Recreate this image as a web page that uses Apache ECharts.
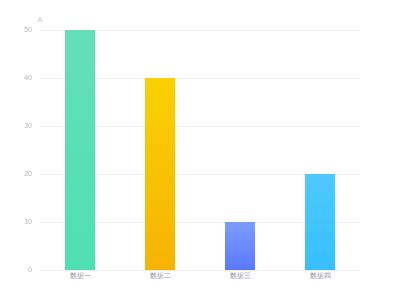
<!DOCTYPE html>
<html><head><meta charset="utf-8">
<script src="https://cdn.jsdelivr.net/npm/echarts@6/dist/echarts.min.js"></script>
<style>html,body{margin:0;padding:0;background:#fff}#c{width:400px;height:300px}</style>
</head><body><div id="c"></div>
<script>
var categories = ['数据一', '数据二', '数据三', '数据四'];
var values = [50, 40, 10, 20];
var yTicks = [0, 10, 20, 30, 40, 50];
var topColors = ['#66deb9', '#f9d100', '#7c9dff', '#4ec9ff'];
var bottomColors = ['#4fe0b1', '#f6b400', '#5a78ff', '#36c0ff'];

var chart = echarts.init(document.getElementById('c'));
chart.setOption({
  animation: false,
  grid: { left: 40, right: 40, top: 30, bottom: 30 },
  xAxis: {
    type: 'category',
    data: categories,
    axisLine: { lineStyle: { color: '#eeeeee' } },
    axisTick: { show: false },
    axisLabel: { color: '#8a90a0', fontSize: 7, margin: 3 }
  },
  yAxis: {
    type: 'value',
    name: 'A',
    nameGap: 6,
    nameTextStyle: { color: '#c0c0c0', fontSize: 7, padding: [0, 0, 0, 0] },
    min: yTicks[0], max: yTicks[yTicks.length - 1], interval: 10,
    axisLine: { show: false },
    axisTick: { show: false },
    axisLabel: { color: '#b8b8b8', fontSize: 7, margin: 8 },
    splitLine: { lineStyle: { color: '#f2f2f2' } }
  },
  series: [{
    type: 'bar',
    barWidth: 30,
    data: values.map(function (v, i) {
      return {
        value: v,
        itemStyle: {
          color: new echarts.graphic.LinearGradient(0, 0, 0, 1, [
            { offset: 0, color: topColors[i] },
            { offset: 1, color: bottomColors[i] }
          ])
        }
      };
    })
  }]
});
</script></body></html>
